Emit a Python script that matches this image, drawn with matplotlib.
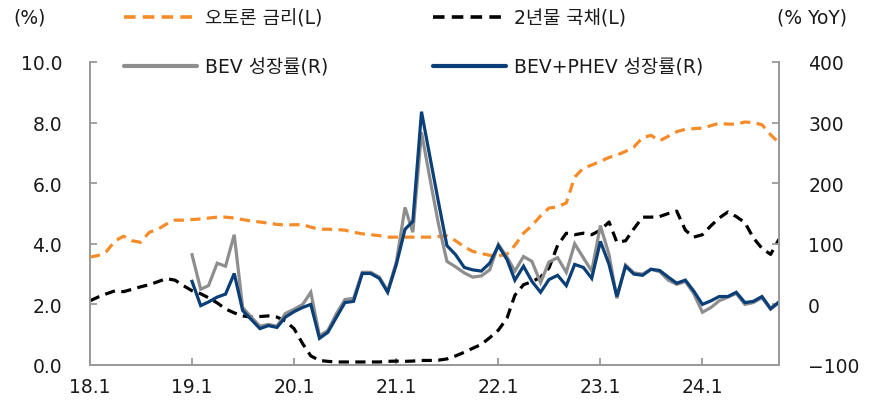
import numpy as np
import pandas as pd
import matplotlib
matplotlib.use("Agg")
import matplotlib.pyplot as plt
from matplotlib.lines import Line2D

plt.rcParams['font.family'] = ['DejaVu Sans', 'Noto Sans CJK KR']

# ---- data (monthly, Jan 2018 - Oct 2024) ----
start_rates = "2018-01-01"
auto_loan = [3.56, 3.62, 3.75, 4.10, 4.25, 4.10, 4.05, 4.38, 4.48, 4.65, 4.78, 4.78,
             4.80, 4.82, 4.85, 4.88, 4.88, 4.85, 4.80, 4.75, 4.72, 4.68, 4.64, 4.62,
             4.63, 4.63, 4.55, 4.48, 4.48, 4.47, 4.45, 4.38, 4.33, 4.30, 4.27, 4.22,
             4.22, 4.22, 4.22, 4.22, 4.22, 4.24, 4.26, 4.10, 3.90, 3.75, 3.68, 3.62,
             3.60, 3.66, 3.95, 4.35, 4.60, 4.92, 5.18, 5.22, 5.35, 6.20, 6.50, 6.60,
             6.72, 6.85, 6.93, 7.05, 7.20, 7.50, 7.58, 7.40, 7.55, 7.70, 7.78, 7.80,
             7.82, 7.90, 7.98, 7.95, 7.95, 8.02, 8.00, 7.93, 7.60, 7.33]
ktb_2y = [2.12, 2.25, 2.35, 2.45, 2.42, 2.50, 2.58, 2.65, 2.75, 2.85, 2.80, 2.62,
          2.45, 2.35, 2.22, 2.05, 1.85, 1.72, 1.62, 1.58, 1.60, 1.62, 1.58, 1.45,
          1.20, 0.70, 0.30, 0.15, 0.12, 0.10, 0.10, 0.10, 0.10, 0.10, 0.10, 0.12,
          0.13, 0.12, 0.13, 0.15, 0.15, 0.16, 0.20, 0.30, 0.42, 0.55, 0.68, 0.90,
          1.15, 1.55, 2.30, 2.65, 2.75, 2.90, 3.20, 3.95, 4.35, 4.30, 4.35, 4.30,
          4.45, 4.72, 4.05, 4.10, 4.50, 4.88, 4.88, 4.90, 5.00, 5.08, 4.45, 4.22,
          4.30, 4.60, 4.85, 5.05, 4.90, 4.70, 4.20, 3.85, 3.65, 4.15]

# ---- data (monthly, Jan 2019 - Oct 2024) ----
start_ev = "2019-01-01"
bev_growth = [82, 25, 31, 68, 63, 115, -5, -21, -36, -33, -36, -15,
              -8, 0, 20, -52, -43, -15, 8, 10, 53, 53, 45, 22,
              70, 160, 119, 284, 208, 132, 71, 62, 52, 45, 47, 57,
              99, 78, 55, 79, 71, 36, 70, 77, 53, 100, 77, 55,
              130, 82, 10, 65, 52, 50, 58, 54, 40, 33, 38, 18,
              -13, -5, 6, 12, 18, 0, 3, 11, -8, 3]
bev_phev_growth = [38, -2, 4, 12, 17, 51, -10, -25, -40, -35, -38, -21,
                   -12, -5, 0, -56, -46, -21, 3, 5, 51, 51, 43, 20,
                   66, 124, 137, 318, 244, 168, 97, 82, 61, 57, 55, 68,
                   97, 74, 40, 63, 38, 20, 41, 48, 31, 66, 61, 43,
                   104, 66, 13, 63, 50, 48, 58, 56, 45, 35, 40, 22,
                   0, 6, 13, 13, 20, 3, 5, 13, -7, 4]

labels = ["오토론 금리(L)", "2년물 국채(L)", "BEV 성장률(R)", "BEV+PHEV 성장률(R)"]
left_ticks = [0, 2, 4, 6, 8, 10]
right_ticks = [-100, 0, 100, 200, 300, 400]

# ---- styles ----
c_orange = "#F68B2A"
c_black = "#000000"
c_gray = "#8E8E8E"
c_navy = "#0B3F78"
c_spine = "#9A9A9A"
c_text = "#1A1A1A"
fs = 13.5

d_rates = pd.date_range(start_rates, periods=len(auto_loan), freq="MS")
d_ev = pd.date_range(start_ev, periods=len(bev_growth), freq="MS")

fig = plt.figure(figsize=(8.76, 4.06), dpi=100)
ax = fig.add_axes([90/876, 1-366/406, (779-90)/876, (366-63)/406])
ax2 = ax.twinx()

dash = (0, (3.2, 2.0))
ax.plot(d_rates, auto_loan, color=c_orange, lw=2.3, linestyle=dash, zorder=3)
ax.plot(d_rates, ktb_2y, color=c_black, lw=2.3, linestyle=dash, zorder=3)
ax2.plot(d_ev, bev_growth, color=c_gray, lw=2.3, solid_joinstyle='miter')
ax2.plot(d_ev, bev_phev_growth, color=c_navy, lw=2.3, solid_joinstyle='miter')

ax.set_ylim(0, 10)
ax2.set_ylim(-100, 400)
ax.set_xlim(d_rates[0], d_rates[-1])
ax.set_yticks(left_ticks)
ax.set_yticklabels([f"{v:.1f}" for v in left_ticks])
ax2.set_yticks(right_ticks)
ax2.set_yticklabels([("\u2212" + str(-v)) if v < 0 else str(v) for v in right_ticks])
xt = pd.date_range("2018-01-01", "2024-01-01", freq="YS")
ax.set_xticks(xt)
ax.set_xticklabels([f"{d:%y}.{d.month}" for d in xt])

for a in (ax, ax2):
    for s in a.spines.values():
        s.set_color(c_spine)
        s.set_linewidth(1.3)
    a.spines['top'].set_visible(False)
    a.tick_params(direction='in', length=5, width=1.3, color=c_spine,
                  labelsize=fs, labelcolor=c_text)
ax.tick_params(axis='y', pad=20)
ax2.tick_params(axis='y', pad=21)
ax.tick_params(axis='x', pad=9)

fig.text(30/876, 1-18/406, "(%)", ha='center', va='center', fontsize=fs, color=c_text)
fig.text(812/876, 1-18/406, "(% YoY)", ha='center', va='center', fontsize=fs, color=c_text)

h_or = Line2D([], [], color=c_orange, lw=2.6, linestyle=dash)
h_bk = Line2D([], [], color=c_black, lw=2.6, linestyle=dash)
h_gr = Line2D([], [], color=c_gray, lw=3.0, solid_capstyle='round')
h_nv = Line2D([], [], color=c_navy, lw=3.0, solid_capstyle='round')

leg_kw = dict(loc='upper left', frameon=False, fontsize=fs,
              handlelength=3.9, handletextpad=0.45, labelspacing=1.62,
              borderaxespad=0, borderpad=0.3)
leg1 = fig.legend([h_or, h_gr], [labels[0], labels[2]],
                  bbox_to_anchor=(118/876, 1-4/406), **leg_kw)
leg2 = fig.legend([h_bk, h_nv], [labels[1], labels[3]],
                  bbox_to_anchor=(427/876, 1-4/406), **leg_kw)
for lg in (leg1, leg2):
    for t in lg.get_texts():
        t.set_color(c_text)

fig.savefig("out.png", dpi=100)
